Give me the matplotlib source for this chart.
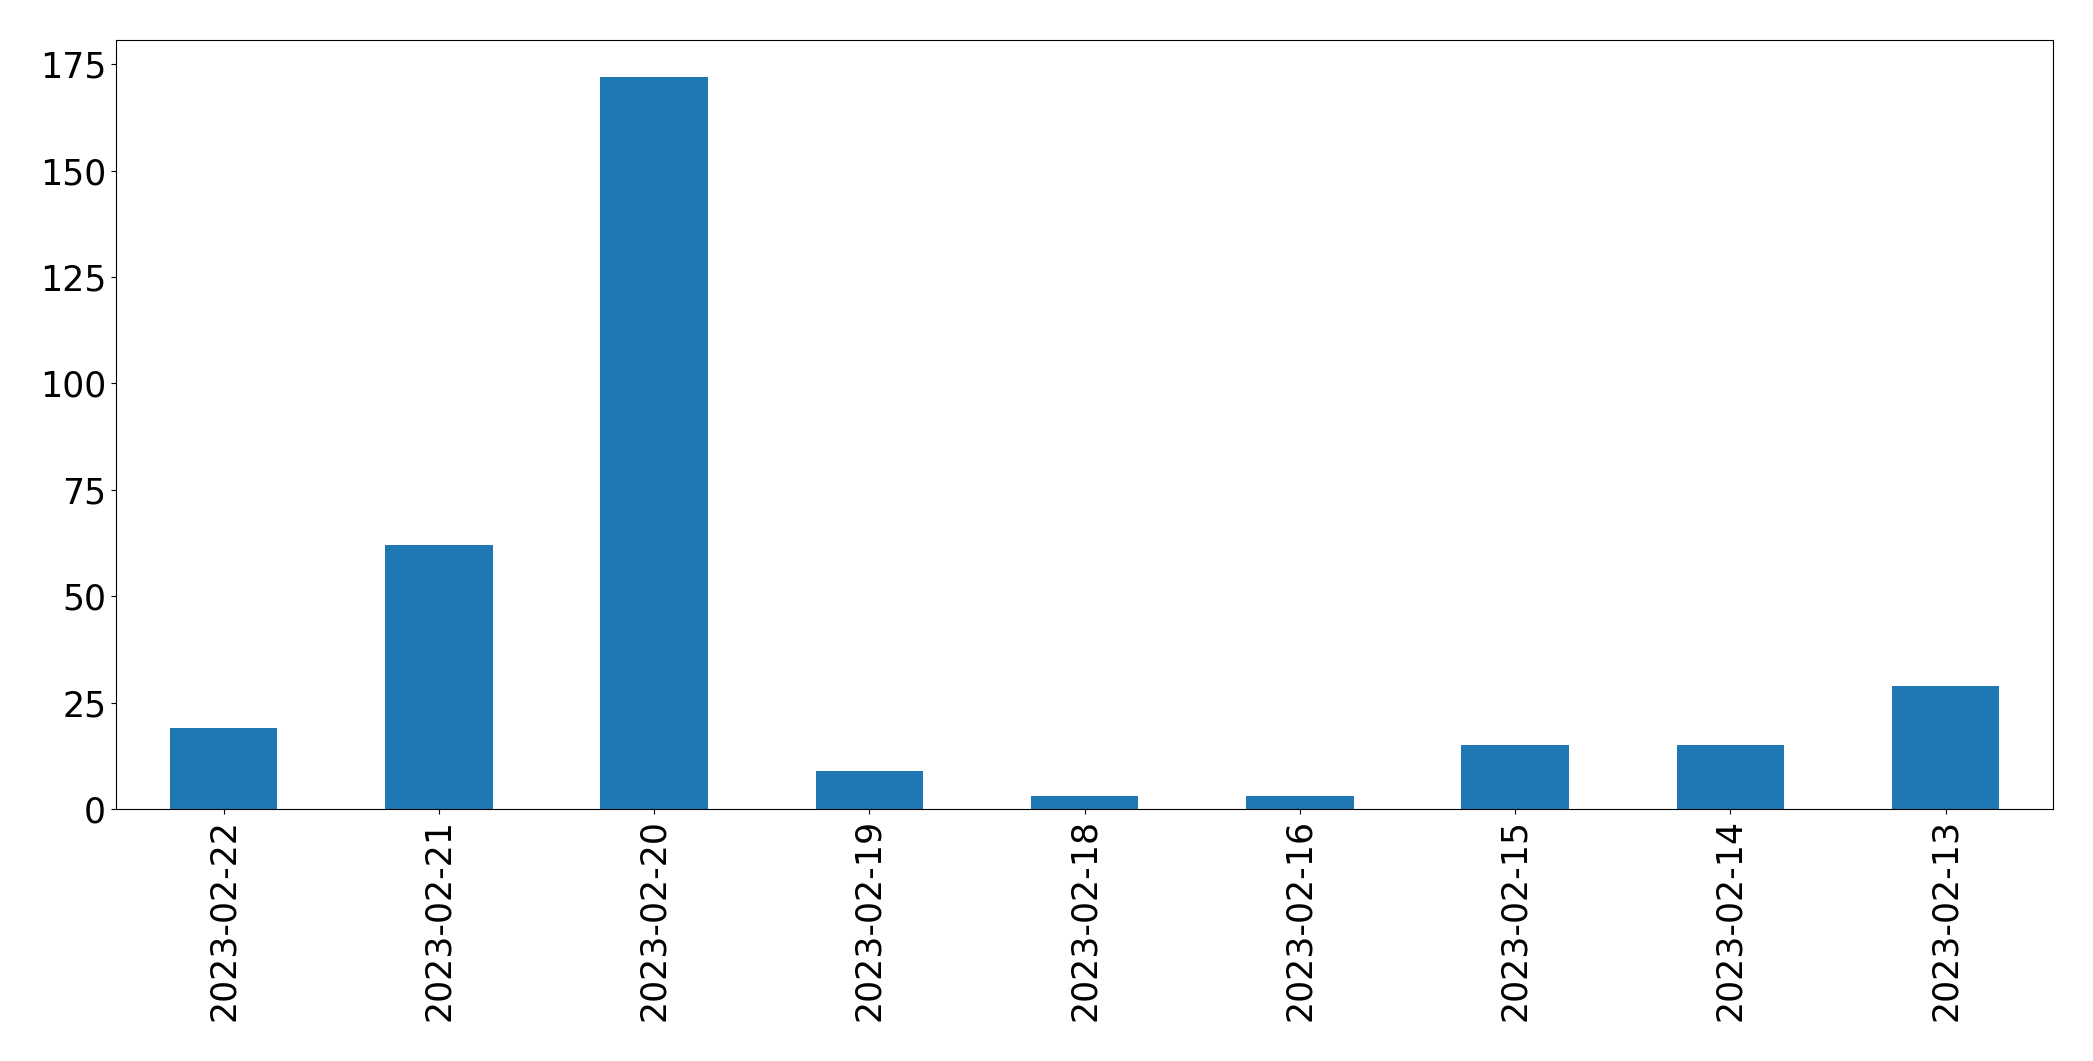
import matplotlib
matplotlib.use('Agg')
import matplotlib.pyplot as plt

dates = ['2023-02-22', '2023-02-21', '2023-02-20', '2023-02-19', '2023-02-18',
         '2023-02-16', '2023-02-15', '2023-02-14', '2023-02-13']
counts = [19, 62, 172, 9, 3, 3, 15, 15, 29]

fig = plt.figure(figsize=(20.93, 10.61), dpi=100)
ax = fig.add_axes([0.0554, 0.2375, 0.9256, 0.7245])

x = range(len(dates))
ax.bar(x, counts, width=0.5, color='#1f77b4')
ax.set_xlim(-0.5, len(dates) - 0.5)
ax.set_xticks(list(x))
ax.set_xticklabels(dates, rotation=90)
ax.tick_params(axis='both', labelsize=25)

fig.savefig('out.png', dpi=100)
